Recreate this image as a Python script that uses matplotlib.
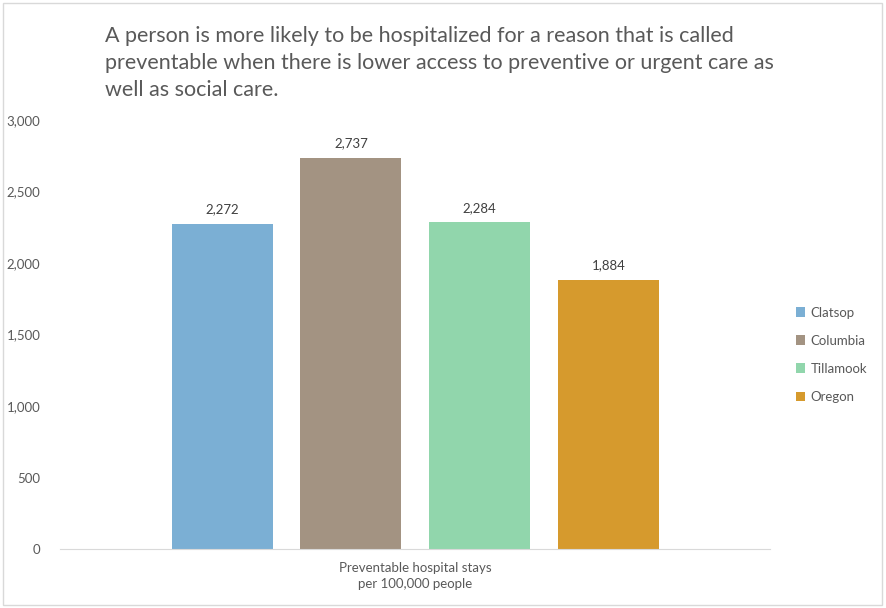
import matplotlib.pyplot as plt
from matplotlib.patches import Rectangle

# Preventable hospital stays per 100,000 people
areas = ["Clatsop", "Columbia", "Tillamook", "Oregon"]
stays = [2272, 2737, 2284, 1884]
colors = ["#7bafd4", "#a39382", "#91d6ac", "#d69a2d"]

title = ("A person is more likely to be hospitalized for a reason that is called\n"
         "preventable when there is lower access to preventive or urgent care as\n"
         "well as social care.")
category = "Preventable hospital stays\nper 100,000 people"

plt.rcParams['font.family'] = ['Lato', 'DejaVu Sans']

fig = plt.figure(figsize=(8.86, 6.08), dpi=100)
ax = fig.add_axes([0.0677, 0.097, 0.8013, 0.7056])

# chart area border
fig.patches.append(Rectangle((0.003, 0.005), 0.992, 0.99, transform=fig.transFigure,
                             fill=False, edgecolor="#d9d9d9", linewidth=1.0))

for i, (name, val, c) in enumerate(zip(areas, stays, colors)):
    ax.bar(i, val, width=0.785, color=c, label=name)
    ax.text(i, val + 60, f"{val:,}", ha="center", va="bottom", fontsize=9.5, color="#404040")

ax.set_xlim(-1.26, 4.255)
ax.set_ylim(0, 3000)
ax.set_yticks(range(0, 3001, 500))
ax.set_yticklabels([f"{v:,}" for v in range(0, 3001, 500)], fontsize=9.5, color="#595959")
ax.tick_params(axis="y", length=0, pad=14)
ax.set_xticks([])

for side in ["top", "right", "left"]:
    ax.spines[side].set_visible(False)
ax.spines["bottom"].set_color("#d9d9d9")

ax.text(1.5, -0.03, category, transform=ax.get_xaxis_transform(), ha="center", va="top",
        fontsize=9.5, color="#595959", linespacing=1.45)

fig.text(0.118, 0.958, title, ha="left", va="top", fontsize=15.5, color="#595959",
         linespacing=1.45)

ax.legend(loc="center left", bbox_to_anchor=(1.02, 0.453), frameon=False, fontsize=9.5,
          handlelength=0.7, handleheight=0.7, handletextpad=0.4, labelspacing=1.22,
          labelcolor="#595959")

fig.savefig("out.png", dpi=100)
